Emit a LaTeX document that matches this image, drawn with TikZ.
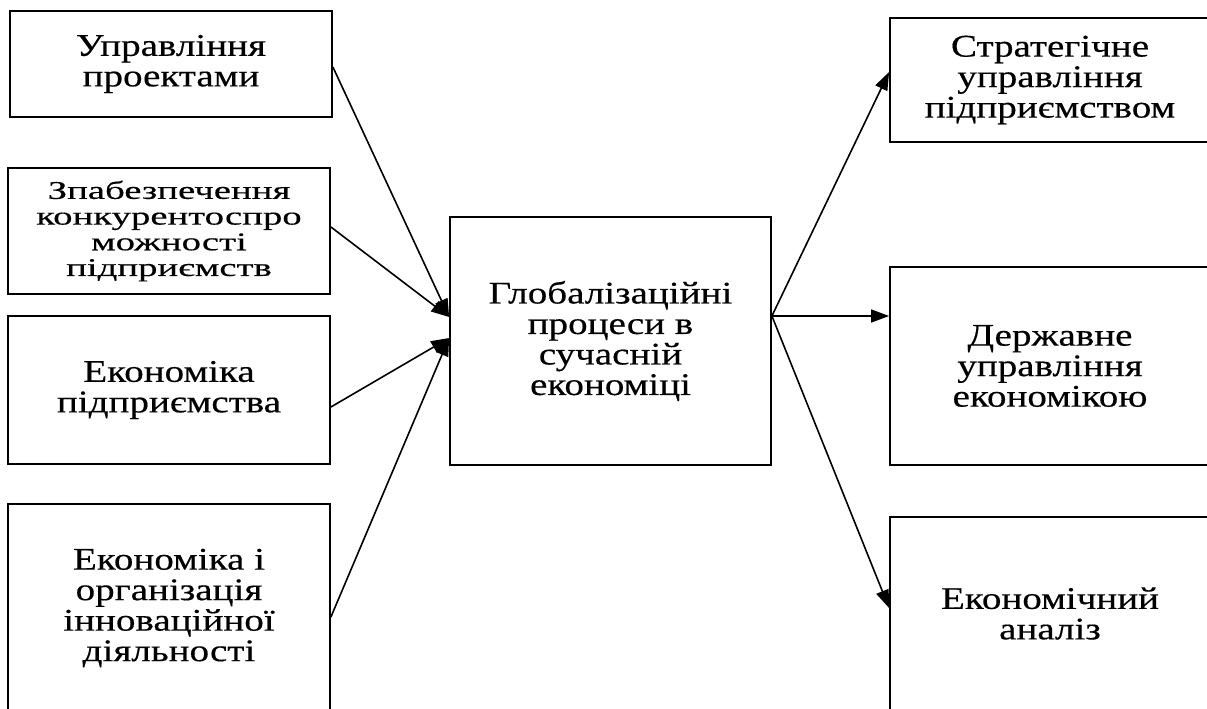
\documentclass[tikz,border=0pt]{standalone}
\usepackage{fontspec}
\setmainfont{Liberation Serif}[FakeStretch=1.24,FakeBold=0.4]
\newfontfamily\widefont{Liberation Serif}[FakeStretch=1.52,FakeBold=0.4]
\usetikzlibrary{arrows.meta,calc}
\tikzset{
  box/.style={draw=black, line width=1.8pt, rectangle, inner sep=0pt, align=center,
    font=\fontsize{31.5}{30.5}\selectfont},
  smallbox/.style={box, font=\widefont\fontsize{25.5}{25.7}\selectfont},
  conn/.style={line width=1.6pt, -{Triangle[length=18pt,width=13pt]}},
}
\begin{document}
\begin{tikzpicture}[x=1pt,y=-1pt]
\useasboundingbox (0,0) rectangle (1207,709);
\clip (0,0) rectangle (1207,709);
% left column
\node[box, minimum width=322pt, minimum height=106pt] (b1) at (171,64) {Управління\\проектами};
\node[smallbox, minimum width=322pt, minimum height=126pt] (b2) at (169,231) {Зпабезпечення\\конкурентоспро\\можності\\підприємств};
\node[box, minimum width=322pt, minimum height=148pt] (b3) at (169,390) {Економіка\\підприємства};
\node[box, minimum width=322pt, minimum height=208pt] (b4) at (169,608) {Економіка і\\організація\\інноваційної\\діяльності};
% centre
\node[box, minimum width=321pt, minimum height=248pt] (c) at (610.5,341) {Глобалізаційні\\процеси в\\сучасній\\економіці};
% right column
\node[box, minimum width=320pt, minimum height=124pt] (r1) at (1050,80) {Стратегічне\\управління\\підприємством};
\node[box, minimum width=320pt, minimum height=198pt] (r2) at (1050,366) {Державне\\управління\\економікою};
\node[box, minimum width=320pt, minimum height=193pt] (r3) at (1050,613.5) {Економічний\\аналіз};
% connectors
\coordinate (inA) at ($(c.west)+(0,-24)$);
\coordinate (inB) at ($(c.west)+(0,-3)$);
\coordinate (out) at ($(c.east)+(0,-25)$);
\draw[conn] ([yshift=-3pt]b1.east) -- (inA);
\draw[conn] ([yshift=4pt]b2.east) -- (inA);
\draw[conn] ([yshift=-17pt]b3.east) -- (inB);
\draw[conn] ([yshift=-9pt]b4.east) -- (inB);
\draw[conn] (out) -- ([yshift=8pt]r1.west);
\draw[conn] (out) -- ([yshift=50pt]r2.west);
\draw[conn] (out) -- ([yshift=5.5pt]r3.west);
\end{tikzpicture}
\end{document}
